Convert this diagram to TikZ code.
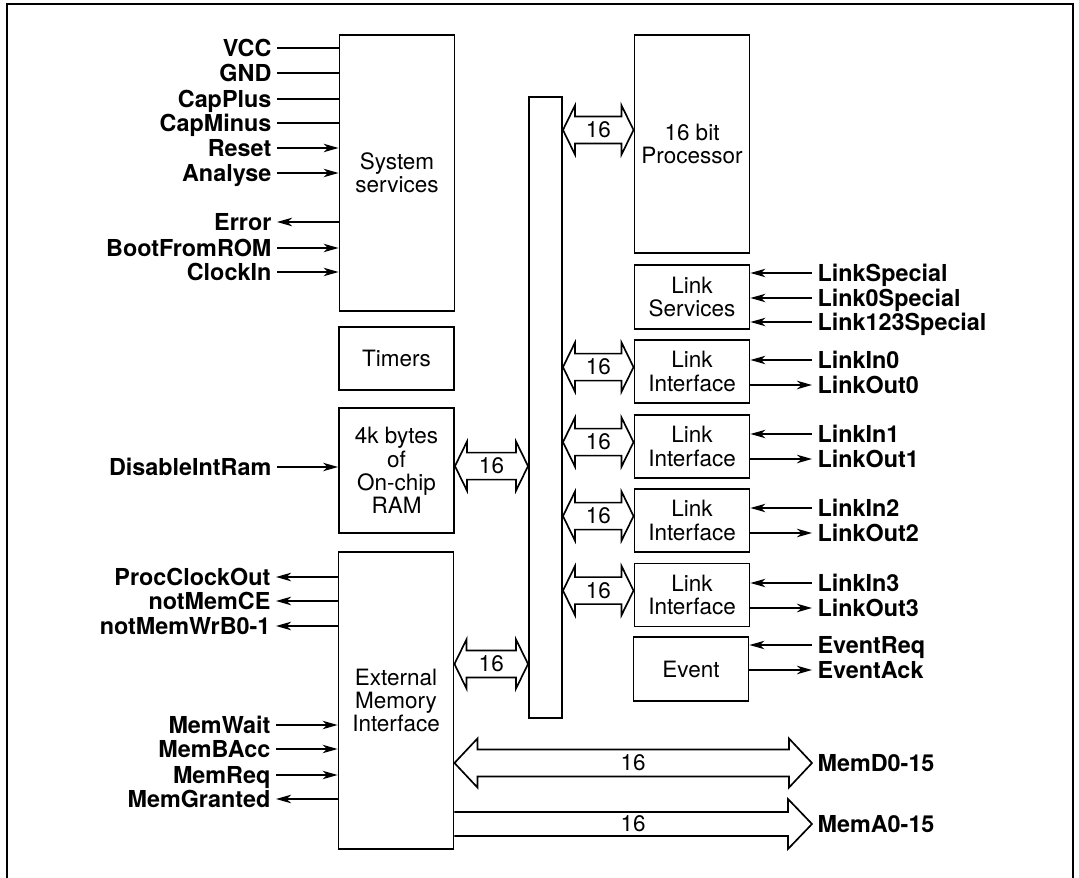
\documentclass[tikz,border=0pt]{standalone}
\usepackage{fontspec}
\setmainfont{TeX Gyre Heros}
\usetikzlibrary{arrows.meta,calc}
\tikzset{
  >={Stealth[length=8.5pt,width=4.8pt,inset=2.4pt]},
  blk/.style={draw,line width=1.1pt,inner sep=0pt,minimum width=2.3cm,align=center,font=\fontsize{12.8}{13.2}\selectfont},
  sigl/.style={anchor=east,inner sep=3pt,text height=9.2pt,text depth=0pt,font=\fontsize{13.3}{14}\selectfont\bfseries},
  sigr/.style={sigl,anchor=west},
  wire/.style={line width=0.85pt},
  num/.style={inner sep=1pt,font=\fontsize{12.8}{13}\selectfont},
  bus2/.style={line width=0.95pt,to path={-- ++(#1,0.49cm) -- ++(0,-0.22cm)
    -- ([shift={(-#1,0.27cm)}]\tikztotarget) -- ++(0,0.22cm) -- (\tikztotarget)
    -- ++(-#1,-0.49cm) -- ++(0,0.22cm) -- ([shift={(#1,-0.27cm)}]\tikztostart)
    -- ++(0,-0.22cm) -- cycle}},
  bus1/.style={line width=0.95pt,to path={([yshift=0.24cm]\tikztostart)
    -- ([shift={(-0.48cm,0.24cm)}]\tikztotarget) -- ++(0,0.26cm) -- (\tikztotarget)
    -- ++(-0.48cm,-0.5cm) -- ++(0,0.26cm) -- ([yshift=-0.24cm]\tikztostart)}}
}
\begin{document}
\begin{tikzpicture}[x=0.02cm,y=-0.02cm]
\useasboundingbox (0,0) rectangle (1079,878);
\draw[line width=1.2pt] (7,4) rectangle (1073,900);
% blocks
\node[blk,minimum height=5.52cm] (ss) at (397,173) {System\\services};
\node[blk,minimum height=1.26cm] (tm) at (396.5,358.5) {Timers};
\node[blk,minimum height=2.5cm] (ram) at (396.5,470.5) {4k bytes\\of\\On-chip\\RAM};
\node[blk,minimum height=5.94cm] (emi) at (396,700.5) {External\\Memory\\Interface};
\node[draw,line width=1.1pt,minimum width=0.66cm,minimum height=12.42cm] (bus) at (545.5,407.5) {};
\node[blk,minimum height=4.36cm] (pr) at (692,144) {16 bit\\Processor};
\node[blk,minimum height=1.28cm] (ls) at (692,297) {Link\\Services};
\node[blk,minimum height=1.26cm] (li0) at (692,371.5) {Link\\Interface};
\node[blk,minimum height=1.26cm] (li1) at (692,446.5) {Link\\Interface};
\node[blk,minimum height=1.26cm] (li2) at (692,520.5) {Link\\Interface};
\node[blk,minimum height=1.26cm] (li3) at (692,595) {Link\\Interface};
\node[blk,minimum height=1.28cm] (ev) at (691,669) {Event};
% 16 bit paths to the bus
\path (pr.west) ++(0,-14) coordinate (prL);
\coordinate (busPr) at (bus.east|-prL);
\draw[bus2=0.24cm] (busPr) to (prL);
\node[num] (nPr) at ($(busPr)!.5!(prL)$) {16};
\coordinate (ramR) at ([yshift=2.5pt]ram.east);
\coordinate (busRam) at (bus.west|-ramR);
\draw[bus2=0.24cm] (ramR) to (busRam);
\node[num] (nRam) at ($(ramR)!.5!(busRam)$) {16};
\path (emi.east) ++(0,-36.5) coordinate (emiR);
\coordinate (busEmi) at (bus.west|-emiR);
\draw[bus2=0.24cm] (emiR) to (busEmi);
\node[num] (nEmi) at ($(emiR)!.5!(busEmi)$) {16};
\coordinate (li0L) at ([yshift=2.5pt]li0.west);
\coordinate (busLi0) at (bus.east|-li0L);
\draw[bus2=0.24cm] (busLi0) to (li0L);
\node[num] (nLi0) at ($(busLi0)!.5!(li0L)$) {16};
\coordinate (li1L) at ([yshift=2.5pt]li1.west);
\coordinate (busLi1) at (bus.east|-li1L);
\draw[bus2=0.24cm] (busLi1) to (li1L);
\node[num] (nLi1) at ($(busLi1)!.5!(li1L)$) {16};
\coordinate (li2L) at ([yshift=2.5pt]li2.west);
\coordinate (busLi2) at (bus.east|-li2L);
\draw[bus2=0.24cm] (busLi2) to (li2L);
\node[num] (nLi2) at ($(busLi2)!.5!(li2L)$) {16};
\coordinate (li3L) at ([yshift=2.5pt]li3.west);
\coordinate (busLi3) at (bus.east|-li3L);
\draw[bus2=0.24cm] (busLi3) to (li3L);
\node[num] (nLi3) at ($(busLi3)!.5!(li3L)$) {16};
% system services pins
\node[sigl] (vcc) at (277,48) {VCC};
\draw[wire] (vcc) -- (vcc-|ss.west);
\node[sigl] (gnd) at (277,73) {GND};
\draw[wire] (gnd) -- (gnd-|ss.west);
\node[sigl] (capp) at (277,99) {CapPlus};
\draw[wire] (capp) -- (capp-|ss.west);
\node[sigl] (capm) at (277,123) {CapMinus};
\draw[wire] (capm) -- (capm-|ss.west);
\node[sigl] (reset) at (277,148) {Reset};
\draw[wire,->] (reset) -- (reset-|ss.west);
\node[sigl] (analyse) at (277,173) {Analyse};
\draw[wire,->] (analyse) -- (analyse-|ss.west);
\node[sigl] (error) at (277,222) {Error};
\draw[wire,<-] (error) -- (error-|ss.west);
\node[sigl] (boot) at (277,248) {BootFromROM};
\draw[wire,->] (boot) -- (boot-|ss.west);
\node[sigl] (clkin) at (277,272) {ClockIn};
\draw[wire,->] (clkin) -- (clkin-|ss.west);
% ram and memory pins
\node[sigl] (disram) at (277,467) {DisableIntRam};
\draw[wire,->] (disram) -- (disram-|ram.west);
\node[sigl] (pclk) at (276,577) {ProcClockOut};
\draw[wire,<-] (pclk) -- (pclk-|emi.west);
\node[sigl] (mce) at (276,601) {notMemCE};
\draw[wire,<-] (mce) -- (mce-|emi.west);
\node[sigl] (mwr) at (276,626) {notMemWrB0-1};
\draw[wire,<-] (mwr) -- (mwr-|emi.west);
\node[sigl] (mwait) at (276,725) {MemWait};
\draw[wire,->] (mwait) -- (mwait-|emi.west);
\node[sigl] (mbacc) at (276,749) {MemBAcc};
\draw[wire,->] (mbacc) -- (mbacc-|emi.west);
\node[sigl] (mreq) at (276,775) {MemReq};
\draw[wire,->] (mreq) -- (mreq-|emi.west);
\node[sigl] (mgnt) at (276,799) {MemGranted};
\draw[wire,<-] (mgnt) -- (mgnt-|emi.west);
% link pins
\node[sigr] (lsp) at (812,273) {LinkSpecial};
\draw[wire,<-] (lsp-|ls.east) -- (lsp);
\node[sigr] (l0sp) at (812,298) {Link0Special};
\draw[wire,<-] (l0sp-|ls.east) -- (l0sp);
\node[sigr] (l123sp) at (812,322) {Link123Special};
\draw[wire,<-] (l123sp-|ls.east) -- (l123sp);
\node[sigr] (lin0) at (812,360) {LinkIn0};
\draw[wire,<-] (lin0-|li0.east) -- (lin0);
\node[sigr] (lout0) at (812,385) {LinkOut0};
\draw[wire,->] (lout0-|li0.east) -- (lout0);
\node[sigr] (lin1) at (812,434) {LinkIn1};
\draw[wire,<-] (lin1-|li1.east) -- (lin1);
\node[sigr] (lout1) at (812,459) {LinkOut1};
\draw[wire,->] (lout1-|li1.east) -- (lout1);
\node[sigr] (lin2) at (812,508) {LinkIn2};
\draw[wire,<-] (lin2-|li2.east) -- (lin2);
\node[sigr] (lout2) at (812,533) {LinkOut2};
\draw[wire,->] (lout2-|li2.east) -- (lout2);
\node[sigr] (lin3) at (812,583) {LinkIn3};
\draw[wire,<-] (lin3-|li3.east) -- (lin3);
\node[sigr] (lout3) at (812,608) {LinkOut3};
\draw[wire,->] (lout3-|li3.east) -- (lout3);
\node[sigr] (evreq) at (812,645) {EventReq};
\draw[wire,<-] (evreq-|ev.east) -- (evreq);
\node[sigr] (evack) at (812,670) {EventAck};
\draw[wire,->] (evack-|ev.east) -- (evack);
% external memory buses
\node[sigr] (memd) at (812,763) {MemD0-15};
\path (emi.east) ++(0,62.5) coordinate (memdL);
\draw[bus2=0.46cm] (memdL) to (memd.west);
\node[num] (nMemd) at ($(memdL)!.5!(memd.west)$) {16};
\node[sigr] (mema) at (812,824) {MemA0-15};
\path (emi.east) ++(0,123.5) coordinate (memaL);
\draw[bus1] (memaL) to (mema.west);
\node[num] (nMema) at ($(memaL)!.5!(mema.west)$) {16};
\end{tikzpicture}
\end{document}
